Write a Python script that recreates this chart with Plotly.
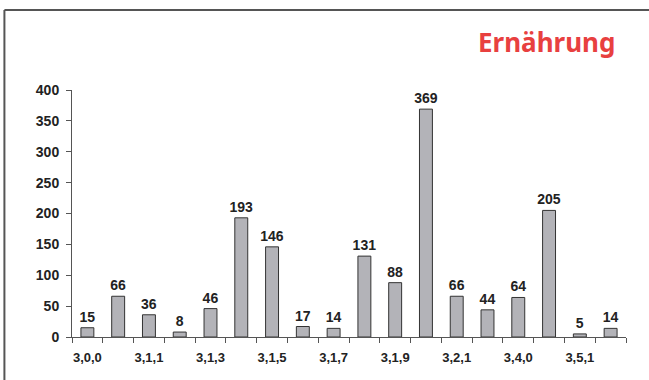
import plotly.graph_objects as go

# Category codes along the x axis (only every other one is labelled)
categories = ["3,0,0", "3,1,0", "3,1,1", "3,1,2", "3,1,3", "3,1,4", "3,1,5", "3,1,6",
              "3,1,7", "3,1,8", "3,1,9", "3,2,0", "3,2,1", "3,3,0", "3,4,0", "3,5,0",
              "3,5,1", "3,6,0"]
counts = [15, 66, 36, 8, 46, 193, 146, 17, 14, 131, 88, 369, 66, 44, 64, 205, 5, 14]
tick_labels = [c if i % 2 == 0 else "" for i, c in enumerate(categories)]
y_ticks = [0, 50, 100, 150, 200, 250, 300, 350, 400]
title_text = "Ernährung"

FONT = "Liberation Sans, Arial, sans-serif"
AXIS_COLOR = "#555555"

fig = go.Figure(
    go.Bar(
        x=categories,
        y=counts,
        texttemplate="<b>%{y}</b>",
        textposition="outside",
        constraintext="none",
        textfont=dict(family=FONT, size=14, color="#222222"),
        marker=dict(color="#b3b3b8", line=dict(color="#333333", width=1)),
        cliponaxis=False,
    )
)

fig.update_layout(
    width=649,
    height=380,
    margin=dict(l=72, r=23, t=90, b=43),
    paper_bgcolor="white",
    plot_bgcolor="white",
    bargap=0.58,
    showlegend=False,
    font=dict(family=FONT, size=13, color="#222222"),
)

fig.update_xaxes(
    type="category",
    tickmode="array",
    tickvals=categories,
    ticktext=[f"<b>{t}</b>" if t else "" for t in tick_labels],
    tickangle=0,
    tickson="boundaries",
    ticks="outside",
    ticklen=5,
    tickcolor=AXIS_COLOR,
    ticklabelstandoff=8,
    showline=True,
    linecolor=AXIS_COLOR,
    linewidth=1,
    showgrid=False,
    tickfont=dict(family=FONT, size=13, color="#222222"),
)

fig.update_yaxes(
    range=[0, 400],
    tickmode="array",
    tickvals=y_ticks,
    ticktext=[f"<b>{v}</b>" for v in y_ticks],
    ticks="outside",
    ticklen=5,
    tickcolor=AXIS_COLOR,
    ticklabelstandoff=4,
    showline=True,
    linecolor=AXIS_COLOR,
    linewidth=1,
    showgrid=False,
    zeroline=False,
    tickfont=dict(family=FONT, size=14, color="#222222"),
)

# Frame lines along the top and left edges of the panel
fig.add_shape(type="line", xref="paper", yref="paper",
              x0=-0.122, x1=1.1, y0=1.324, y1=1.324,
              line=dict(color="#555555", width=2))
fig.add_shape(type="line", xref="paper", yref="paper",
              x0=-0.122, x1=-0.122, y0=1.324, y1=-0.3,
              line=dict(color="#555555", width=2))

# Panel heading
fig.add_annotation(
    text=f"<b>{title_text}</b>",
    xref="paper", yref="paper",
    x=0.984, y=1.194,
    xanchor="right", yanchor="middle",
    showarrow=False,
    font=dict(family="Noto Sans, sans-serif", size=26, color="#e8403f"),
)

fig.write_html("out.html")
